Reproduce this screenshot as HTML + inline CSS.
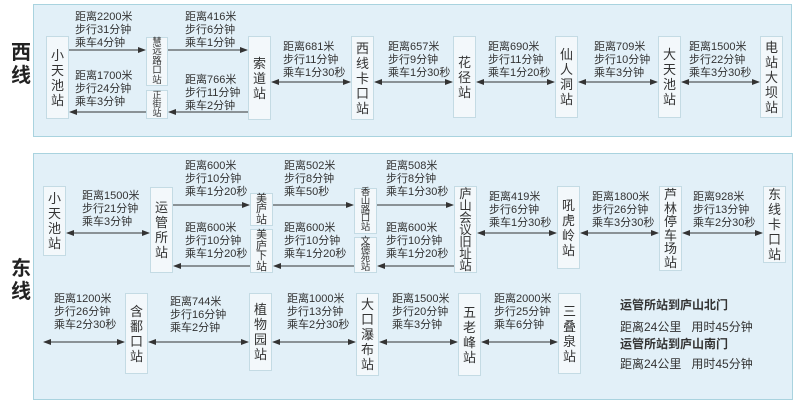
<!DOCTYPE html>
<html><head><meta charset="utf-8"><style>
body{margin:0;width:801px;height:403px;background:#fff;position:relative;overflow:hidden;font-family:"Liberation Sans","Noto Sans CJK SC",sans-serif;color:#333}
.p{position:absolute;background:#e2f0f8;border:1.5px solid #a9d3df;box-sizing:border-box}
.s{position:absolute;background:#f3f8fb;border:1px solid #c4dbe4;box-sizing:border-box;display:flex;align-items:center;justify-content:center;text-align:center;font-size:13px;line-height:15px;word-break:break-all;color:#333;padding:0 3px}
.t{position:absolute;font-size:11px;line-height:13px;white-space:nowrap;color:#333}
.L{position:absolute;font-size:20px;font-weight:bold;line-height:23px;width:24px;color:#222}
svg{position:absolute;left:0;top:0}
</style></head><body>
<div class="p" style="left:33px;top:4px;width:759px;height:133px"></div>
<div class="p" style="left:33px;top:153px;width:760px;height:247px"></div>
<div class="L" style="left:11px;top:42px">西<br>线</div>
<div class="L" style="left:11px;top:258px">东<br>线</div>

<!-- West stations -->
<div class="s" style="left:46px;top:36px;width:23px;height:83px">小天池站</div>
<div class="s" style="left:146px;top:37px;width:22px;height:49px;font-size:9.5px;line-height:9.4px;padding:0 5px">慧远路口站</div>
<div class="s" style="left:146px;top:90px;width:22px;height:29px;font-size:9px;line-height:9px;padding:0 5px">正街站</div>
<div class="s" style="left:248px;top:36px;width:23px;height:84px">索道站</div>
<div class="s" style="left:351px;top:36px;width:23px;height:84px">西线卡口站</div>
<div class="s" style="left:453px;top:36px;width:23px;height:82px">花径站</div>
<div class="s" style="left:555px;top:36px;width:23px;height:82px">仙人洞站</div>
<div class="s" style="left:658px;top:36px;width:23px;height:82px">大天池站</div>
<div class="s" style="left:760px;top:36px;width:23px;height:82px">电站大坝站</div>

<div class="t" style="left:75px;top:11px">距离2200米<br>步行31分钟<br>乘车4分钟</div>
<div class="t" style="left:185px;top:11px">距离416米<br>步行6分钟<br>乘车1分钟</div>
<div class="t" style="left:75px;top:70px">距离1700米<br>步行24分钟<br>乘车3分钟</div>
<div class="t" style="left:185px;top:74px">距离766米<br>步行11分钟<br>乘车2分钟</div>
<div class="t" style="left:283px;top:41px">距离681米<br>步行11分钟<br>乘车1分30秒</div>
<div class="t" style="left:388px;top:41px">距离657米<br>步行9分钟<br>乘车1分30秒</div>
<div class="t" style="left:488px;top:41px">距离690米<br>步行11分钟<br>乘车1分20秒</div>
<div class="t" style="left:594px;top:41px">距离709米<br>步行10分钟<br>乘车3分钟</div>
<div class="t" style="left:689px;top:41px">距离1500米<br>步行22分钟<br>乘车3分30秒</div>

<!-- East stations -->
<div class="s" style="left:43px;top:186px;width:23px;height:70px">小天池站</div>
<div class="s" style="left:150px;top:187px;width:23px;height:86px">运管所站</div>
<div class="s" style="left:250px;top:193px;width:23px;height:33px;font-size:11px;line-height:10.5px;padding:0 5px">美庐站</div>
<div class="s" style="left:250px;top:229px;width:23px;height:44px;font-size:11px;line-height:10.5px;padding:0 5px">美庐下站</div>
<div class="s" style="left:354px;top:188px;width:23px;height:46px;font-size:9.5px;line-height:8.8px;padding:0 6px">香山路口站</div>
<div class="s" style="left:354px;top:237px;width:23px;height:36px;font-size:9.5px;line-height:8.6px;padding:0 6px">文德苑站</div>
<div class="s" style="left:454px;top:186px;width:23px;height:87px;font-size:12.5px;line-height:12px">庐山会议旧址站</div>
<div class="s" style="left:557px;top:186px;width:23px;height:83px">吼虎岭站</div>
<div class="s" style="left:659px;top:186px;width:23px;height:85px;line-height:13.5px">芦林停车场站</div>
<div class="s" style="left:763px;top:186px;width:23px;height:77px">东线卡口站</div>

<div class="t" style="left:82px;top:190px">距离1500米<br>步行21分钟<br>乘车3分钟</div>
<div class="t" style="left:185px;top:160px">距离600米<br>步行10分钟<br>乘车1分20秒</div>
<div class="t" style="left:284px;top:160px">距离502米<br>步行8分钟<br>乘车50秒</div>
<div class="t" style="left:386px;top:160px">距离508米<br>步行8分钟<br>乘车1分30秒</div>
<div class="t" style="left:185px;top:222px">距离600米<br>步行10分钟<br>乘车1分20秒</div>
<div class="t" style="left:284px;top:222px">距离600米<br>步行10分钟<br>乘车1分20秒</div>
<div class="t" style="left:386px;top:222px">距离600米<br>步行10分钟<br>乘车1分20秒</div>
<div class="t" style="left:489px;top:191px">距离419米<br>步行6分钟<br>乘车1分30秒</div>
<div class="t" style="left:592px;top:191px">距离1800米<br>步行26分钟<br>乘车3分30秒</div>
<div class="t" style="left:693px;top:191px">距离928米<br>步行13分钟<br>乘车2分30秒</div>

<div class="s" style="left:125px;top:293px;width:23px;height:81px">含鄱口站</div>
<div class="s" style="left:249px;top:293px;width:23px;height:78px">植物园站</div>
<div class="s" style="left:356px;top:293px;width:23px;height:83px">大口瀑布站</div>
<div class="s" style="left:458px;top:293px;width:23px;height:83px">五老峰站</div>
<div class="s" style="left:558px;top:293px;width:23px;height:81px">三叠泉站</div>

<div class="t" style="left:54px;top:293px">距离1200米<br>步行26分钟<br>乘车2分30秒</div>
<div class="t" style="left:170px;top:296px">距离744米<br>步行16分钟<br>乘车2分钟</div>
<div class="t" style="left:287px;top:293px">距离1000米<br>步行13分钟<br>乘车2分30秒</div>
<div class="t" style="left:392px;top:293px">距离1500米<br>步行20分钟<br>乘车3分钟</div>
<div class="t" style="left:494px;top:293px">距离2000米<br>步行25分钟<br>乘车6分钟</div>

<div class="t" style="left:620px;top:298px;font-size:12px;line-height:14px;font-weight:bold">运管所站到庐山北门</div>
<div class="t" style="left:620px;top:320px;font-size:12px;line-height:14px">距离24公里&nbsp;&nbsp;&nbsp;用时45分钟</div>
<div class="t" style="left:620px;top:337px;font-size:12px;line-height:14px;font-weight:bold">运管所站到庐山南门</div>
<div class="t" style="left:620px;top:357px;font-size:12px;line-height:14px">距离24公里&nbsp;&nbsp;&nbsp;用时45分钟</div>

<svg width="801" height="403" viewBox="0 0 801 403">
<defs>
<marker id="a" markerWidth="8" markerHeight="6" refX="7" refY="3" orient="auto-start-reverse" markerUnits="userSpaceOnUse"><path d="M0,0 L8,3 L0,6 Z" fill="#333"/></marker>
</defs>
<g stroke="#333" stroke-width="1" fill="none">
<line x1="69" y1="50" x2="145" y2="50" marker-end="url(#a)"/>
<line x1="168" y1="50" x2="247" y2="50" marker-end="url(#a)"/>
<line x1="146" y1="112" x2="70" y2="112" marker-end="url(#a)"/>
<line x1="248" y1="112" x2="169" y2="112" marker-end="url(#a)"/>
<line x1="272" y1="82" x2="350" y2="82" marker-start="url(#a)" marker-end="url(#a)"/>
<line x1="375" y1="82" x2="452" y2="82" marker-start="url(#a)" marker-end="url(#a)"/>
<line x1="477" y1="82" x2="554" y2="82" marker-start="url(#a)" marker-end="url(#a)"/>
<line x1="579" y1="82" x2="657" y2="82" marker-start="url(#a)" marker-end="url(#a)"/>
<line x1="682" y1="82" x2="759" y2="82" marker-start="url(#a)" marker-end="url(#a)"/>

<line x1="67" y1="233" x2="149" y2="233" marker-start="url(#a)" marker-end="url(#a)"/>
<line x1="173" y1="205" x2="249" y2="205" marker-end="url(#a)"/>
<line x1="273" y1="205" x2="353" y2="205" marker-end="url(#a)"/>
<line x1="377" y1="205" x2="453" y2="205" marker-end="url(#a)"/>
<line x1="250" y1="266" x2="174" y2="266" marker-end="url(#a)"/>
<line x1="354" y1="266" x2="274" y2="266" marker-end="url(#a)"/>
<line x1="454" y1="266" x2="378" y2="266" marker-end="url(#a)"/>
<line x1="478" y1="233" x2="556" y2="233" marker-start="url(#a)" marker-end="url(#a)"/>
<line x1="581" y1="233" x2="658" y2="233" marker-start="url(#a)" marker-end="url(#a)"/>
<line x1="683" y1="233" x2="762" y2="233" marker-start="url(#a)" marker-end="url(#a)"/>

<line x1="44" y1="342" x2="124" y2="342" marker-start="url(#a)" marker-end="url(#a)"/>
<line x1="149" y1="342" x2="248" y2="342" marker-start="url(#a)" marker-end="url(#a)"/>
<line x1="273" y1="342" x2="355" y2="342" marker-start="url(#a)" marker-end="url(#a)"/>
<line x1="380" y1="342" x2="457" y2="342" marker-start="url(#a)" marker-end="url(#a)"/>
<line x1="482" y1="342" x2="557" y2="342" marker-start="url(#a)" marker-end="url(#a)"/>
</g>
</svg>
</body></html>
